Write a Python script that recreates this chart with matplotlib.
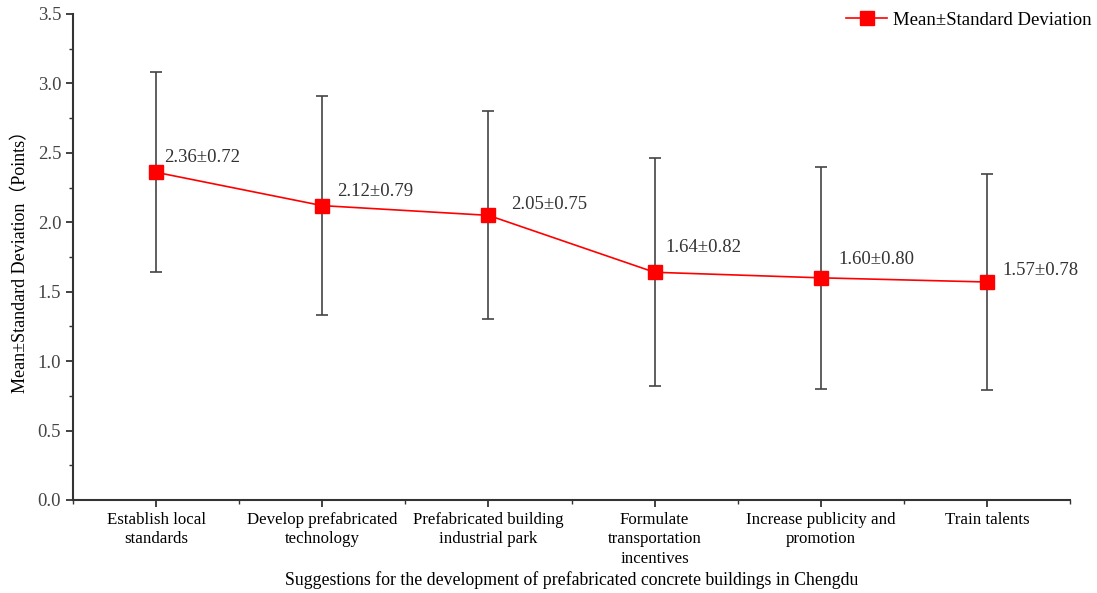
import matplotlib.pyplot as plt
from matplotlib.ticker import MultipleLocator, FixedLocator

categories = ["Establish local\nstandards", "Develop prefabricated\ntechnology",
              "Prefabricated building\nindustrial park", "Formulate\ntransportation\nincentives",
              "Increase publicity and\npromotion", "Train talents"]
means = [2.36, 2.12, 2.05, 1.64, 1.60, 1.57]
stds = [0.72, 0.79, 0.75, 0.82, 0.80, 0.78]

# label offsets (points) to mimic the original placement
offsets = [(6, 11), (11, 10), (16.5, 8), (8, 18), (13, 13), (11.5, 8)]

plt.rcParams['font.family'] = ['Liberation Serif', 'Noto Sans CJK SC', 'DejaVu Serif']

fig = plt.figure(figsize=(10.97, 5.93), dpi=100)
ax = fig.add_axes([73 / 1097, 93 / 593, 997 / 1097, 486 / 593])

x = list(range(len(categories)))
ax.errorbar(x, means, yerr=stds, fmt='none', ecolor='#444444', elinewidth=1.2,
            capsize=4, capthick=1.2, zorder=2)
ax.plot(x, means, color='red', lw=1.2, marker='s', markersize=10,
        markerfacecolor='red', markeredgecolor='red', zorder=3,
        label="Mean±Standard Deviation")

for xi, m, s, off in zip(x, means, stds, offsets):
    ax.annotate(f"{m:.2f}±{s:.2f}", (xi, m), xytext=off, textcoords='offset points',
                ha='left', va='center', fontsize=13.5, color='#333333')

ax.set_xlim(-0.5, 5.5)
ax.set_ylim(0, 3.5)
ax.set_xticks(x)
ax.set_xticklabels(categories, fontsize=12.2, linespacing=1.3)
ax.xaxis.set_minor_locator(FixedLocator([i + 0.5 for i in range(-1, 6)]))
ax.yaxis.set_major_locator(MultipleLocator(0.5))
ax.yaxis.set_minor_locator(MultipleLocator(0.25))
ax.set_yticklabels([f"{v:.1f}" for v in ax.get_yticks()], fontsize=13.5, color='#444444')

for side in ['top', 'right']:
    ax.spines[side].set_visible(False)
for side in ['left', 'bottom']:
    ax.spines[side].set_linewidth(1.5)
    ax.spines[side].set_color('#333333')
ax.tick_params(which='major', direction='out', length=5, width=1.3, color='#333333')
ax.tick_params(which='minor', direction='out', length=3, width=1.0, color='#333333')

ax.set_xlabel("Suggestions for the development of prefabricated concrete buildings in Chengdu",
              fontsize=12.8, labelpad=3)
ax.set_ylabel("Mean±Standard Deviation（Points）", fontsize=13, labelpad=6)

ax.legend(loc='upper right', bbox_to_anchor=(1.029, 1.02), frameon=False, fontsize=13.5,
          handlelength=2.2, borderaxespad=0, handletextpad=0.3)

fig.savefig("out.png", dpi=100)
